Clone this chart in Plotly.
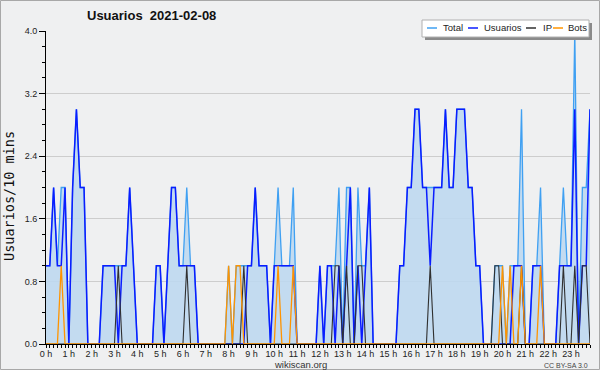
import numpy as np
import plotly.graph_objects as go

# ---------------- data (10-minute slots, 2021-02-08) ----------------
hour_labels = [f"{h} h" for h in range(24)]
slots_per_hour = 6

usuarios = [
    1, 1, 2, 1, 1, 2, 0, 2, 3, 2, 2, 0,
    0, 0, 0, 1, 1, 1, 1, 0, 1, 1, 2, 1,
    0, 0, 0, 0, 0, 1, 1, 0, 1, 2, 2, 1,
    1, 1, 1, 1, 0, 0, 0, 0, 0, 0, 0, 0,
    0, 0, 0, 0, 0, 1, 1, 2, 1, 1, 1, 0,
    1, 1, 1, 1, 1, 1, 0, 0, 0, 0, 0, 0,
    1, 0, 1, 1, 0, 1, 0, 1, 2, 0, 1, 0,
    1, 2, 0, 0, 0, 0, 0, 0, 0, 1, 1, 2,
    2, 3, 3, 2, 2, 1, 2, 2, 2, 3, 2, 2,
    3, 3, 3, 2, 2, 1, 1, 0, 0, 0, 0, 0,
    0, 0, 0, 1, 1, 1, 0, 0, 1, 1, 1, 0,
    0, 0, 0, 1, 1, 1, 1, 3, 0, 1, 1, 3,
]
ip = [
    0, 0, 0, 0, 0, 0, 0, 0, 0, 0, 0, 0,
    0, 0, 0, 0, 0, 0, 0, 1, 0, 0, 0, 0,
    0, 0, 0, 0, 0, 0, 0, 0, 0, 0, 0, 0,
    0, 1, 0, 0, 0, 0, 0, 0, 0, 0, 0, 0,
    0, 0, 0, 0, 1, 0, 0, 0, 0, 0, 0, 0,
    0, 0, 0, 0, 0, 0, 0, 0, 0, 0, 0, 0,
    0, 0, 0, 0, 1, 1, 0, 1, 0, 0, 1, 1,
    0, 0, 0, 0, 0, 0, 0, 0, 0, 0, 0, 0,
    0, 0, 0, 0, 0, 1, 0, 0, 0, 0, 0, 0,
    0, 0, 0, 0, 0, 0, 0, 0, 0, 0, 1, 1,
    0, 0, 0, 0, 0, 1, 0, 0, 0, 0, 0, 0,
    0, 0, 0, 0, 1, 0, 0, 1, 0, 1, 1, 0,
]
bots = [
    0, 0, 0, 0, 1, 0, 0, 0, 0, 0, 0, 0,
    0, 0, 0, 0, 0, 0, 0, 0, 0, 0, 0, 0,
    0, 0, 0, 0, 0, 0, 0, 0, 0, 0, 0, 0,
    0, 0, 0, 0, 0, 0, 0, 0, 0, 0, 0, 0,
    1, 0, 1, 1, 0, 0, 0, 0, 0, 0, 0, 0,
    0, 1, 0, 0, 0, 1, 0, 0, 0, 0, 0, 0,
    0, 0, 0, 0, 0, 0, 0, 0, 0, 0, 0, 0,
    0, 0, 0, 0, 0, 0, 0, 0, 0, 0, 0, 0,
    0, 0, 0, 0, 0, 0, 0, 0, 0, 0, 0, 0,
    0, 0, 0, 0, 0, 0, 0, 0, 0, 0, 0, 0,
    1, 0, 1, 0, 0, 1, 0, 0, 0, 0, 1, 0,
    0, 0, 0, 0, 0, 0, 0, 0, 0, 0, 0, 0,
]
total = [
    1, 1, 2, 1, 2, 2, 0, 2, 3, 2, 2, 0,
    0, 0, 0, 1, 1, 1, 1, 1, 1, 1, 2, 1,
    0, 0, 0, 0, 0, 1, 1, 0, 1, 2, 2, 1,
    1, 2, 1, 1, 0, 0, 0, 0, 0, 0, 0, 0,
    1, 0, 1, 1, 1, 1, 1, 2, 1, 1, 1, 0,
    1, 2, 1, 1, 1, 2, 0, 0, 0, 0, 0, 0,
    1, 0, 1, 1, 1, 2, 0, 2, 2, 0, 2, 1,
    1, 2, 0, 0, 0, 0, 0, 0, 0, 1, 1, 2,
    2, 3, 3, 2, 2, 2, 2, 2, 2, 3, 2, 2,
    3, 3, 3, 2, 2, 1, 1, 0, 0, 0, 1, 1,
    1, 0, 1, 1, 1, 3, 0, 0, 1, 1, 2, 0,
    0, 0, 0, 1, 2, 1, 1, 4, 0, 2, 2, 3,
]
y_ticks = [0.0, 0.8, 1.6, 2.4, 3.2, 4.0]

series_names = ["Total", "Usuarios", "IP", "Bots"]
colors = {"Total": "#3fa0f2", "Usuarios": "#0a1cff", "IP": "#303030", "Bots": "#ff9400"}
widths = {"Total": 1.3, "Usuarios": 1.5, "IP": 1.1, "Bots": 1.3}

x = np.arange(len(total)) / slots_per_hour

# ---------------- figure ----------------
W, H = 600, 370
L, R, T, B = 46, 590, 31, 344
BG = "#eff0f1"
FONT = "Liberation Sans, Arial, sans-serif"


def px(v):
    return (v - L) / (R - L)


def py(v):
    return (B - v) / (B - T)


fig = go.Figure()
fig.add_trace(go.Scatter(x=x, y=total, mode="lines", fill="tozeroy",
                         fillcolor="rgba(190,216,240,0.9)",
                         line=dict(color=colors["Total"], width=widths["Total"]),
                         name="Total", hoverinfo="skip"))
data_map = {"Usuarios": usuarios, "IP": ip, "Bots": bots}
for nm in ["Usuarios", "IP", "Bots"]:
    fig.add_trace(go.Scatter(x=x, y=data_map[nm], mode="lines",
                             line=dict(color=colors[nm], width=widths[nm]),
                             name=nm, hoverinfo="skip"))

fig.update_layout(
    width=W, height=H,
    margin=dict(l=L, r=W - R, t=T, b=H - B, pad=0),
    paper_bgcolor=BG, plot_bgcolor=BG,
    showlegend=False,
    font=dict(family=FONT, size=9, color="#222"),
    hovermode=False,
)
fig.update_xaxes(
    range=[0, x[-1]], tickmode="array", tickvals=list(range(24)), ticktext=hour_labels,
    ticks="outside", ticklen=3, tickcolor="#000", tickwidth=1, ticklabelstandoff=-2,
    showline=True, linecolor="#000", linewidth=1, showgrid=False, zeroline=False,
    minor=dict(dtick=1 / slots_per_hour, ticks="outside", ticklen=3, tickcolor="#000", tickwidth=1),
    tickfont=dict(family=FONT, size=9, color="#222"), fixedrange=True,
)
fig.update_yaxes(
    range=[0, 4], tickmode="array", tickvals=y_ticks, ticktext=[f"{v:.1f}" for v in y_ticks],
    ticks="outside", ticklen=6, tickcolor="#000", tickwidth=1,
    showline=True, linecolor="#000", linewidth=1,
    showgrid=True, gridcolor="#cdcdcd", gridwidth=1, zeroline=False,
    minor=dict(dtick=0.2, ticks="outside", ticklen=3, tickcolor="#000", tickwidth=1, showgrid=False),
    tickfont=dict(family=FONT, size=9, color="#222"), fixedrange=True,
)

shapes = []
annotations = []

# outer frame
shapes.append(dict(type="rect", xref="paper", yref="paper",
                   x0=px(0.5), x1=px(599.5), y0=py(369.5), y1=py(0.5),
                   line=dict(color="#a8a8a8", width=1), fillcolor="rgba(0,0,0,0)", layer="above"))

# title
annotations.append(dict(text="<b>Usuarios  2021-02-08</b>", xref="paper", yref="paper",
                        x=px(85), y=py(16), xanchor="left", yanchor="middle", showarrow=False,
                        font=dict(family=FONT, size=13, color="#111")))
# y title
annotations.append(dict(text="Usuarios/10 mins", xref="paper", yref="paper",
                        x=px(9), y=py(196), xanchor="center", yanchor="middle", showarrow=False,
                        textangle=-90, font=dict(family="DejaVu Sans Mono, monospace", size=13.5, color="#111")))
# footer
annotations.append(dict(text="wikiscan.org", xref="paper", yref="paper",
                        x=px(300), y=py(364.5), xanchor="center", yanchor="middle", showarrow=False,
                        font=dict(family=FONT, size=9.5, color="#333")))
annotations.append(dict(text="CC BY-SA 3.0", xref="paper", yref="paper",
                        x=px(590), y=py(365), xanchor="right", yanchor="middle", showarrow=False,
                        font=dict(family=FONT, size=7, color="#444")))

# legend (drawn manually)
lx0, lx1, ly0, ly1 = 422, 589, 20, 37
shapes.append(dict(type="rect", xref="paper", yref="paper",
                   x0=px(lx0 + 3), x1=px(lx1 + 3), y0=py(ly1 + 3), y1=py(ly0 + 3),
                   line=dict(width=0), fillcolor="#8a8a8a", layer="above"))
shapes.append(dict(type="rect", xref="paper", yref="paper",
                   x0=px(lx0), x1=px(lx1), y0=py(ly1), y1=py(ly0),
                   line=dict(color="#b0b0b0", width=1), fillcolor="#ffffff", layer="above"))
leg_line_x = [427, 468, 526, 553]
leg_text_x = [441, 482, 541, 566]
ly = 28
for nm, lxs, ltx in zip(series_names, leg_line_x, leg_text_x):
    shapes.append(dict(type="line", xref="paper", yref="paper",
                       x0=px(lxs), x1=px(lxs + 10), y0=py(ly), y1=py(ly),
                       line=dict(color=colors[nm], width=1.5), layer="above"))
    annotations.append(dict(text=nm, xref="paper", yref="paper", x=px(ltx), y=py(ly),
                            xanchor="left", yanchor="middle", showarrow=False,
                            font=dict(family=FONT, size=9.5, color="#222")))

fig.update_layout(shapes=shapes, annotations=annotations)
fig.write_html("out.html", config={"displayModeBar": False, "staticPlot": True})
